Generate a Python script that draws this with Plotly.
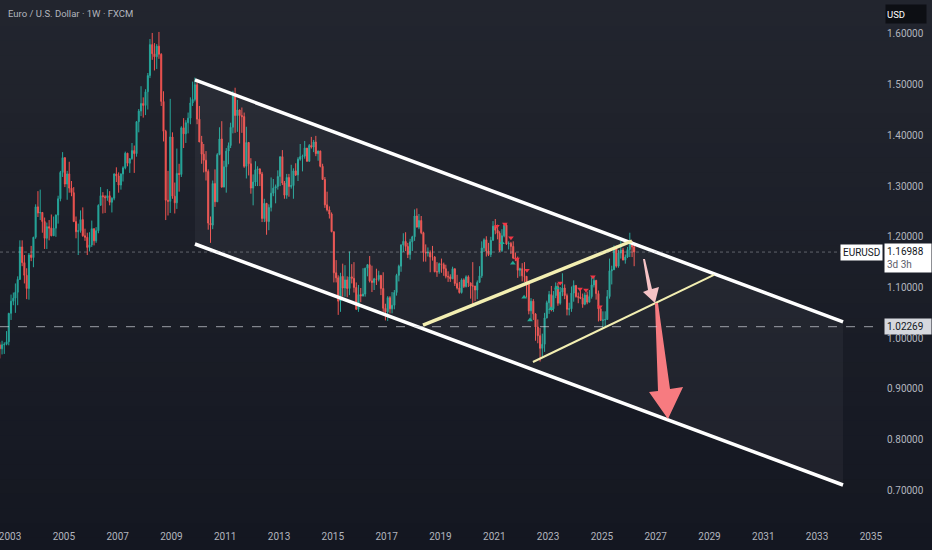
import pandas as pd
import plotly.graph_objects as go

# monthly EUR/USD candles, Aug 2002 .. Mar 2026 (high, low, close)
first_open = 0.9870
highs = [
    0.9920, 0.9950, 0.9920, 1.0140, 1.0500,  # 2002 Aug-Dec
    1.0860, 1.0900, 1.1080, 1.1220, 1.1930, 1.1930, 1.1640, 1.1380, 1.1680, 1.1820, 1.2000, 1.2640,  # 2003
    1.2900, 1.2930, 1.2470, 1.2380, 1.2280, 1.2330, 1.2440, 1.2400, 1.2440, 1.2810, 1.3300, 1.3670,  # 2004
    1.3570, 1.3300, 1.3480, 1.3100, 1.2980, 1.2400, 1.2260, 1.2520, 1.2580, 1.2160, 1.2080, 1.2090,  # 2005
    1.2320, 1.2150, 1.2190, 1.2640, 1.2980, 1.2880, 1.2820, 1.2940, 1.2900, 1.2780, 1.3250, 1.3370,  # 2006
    1.3270, 1.3250, 1.3390, 1.3680, 1.3650, 1.3550, 1.3850, 1.3800, 1.4280, 1.4520, 1.4970, 1.4750,  # 2007
    1.4910, 1.5230, 1.5900, 1.6020, 1.5820, 1.5800, 1.6040, 1.5620, 1.4870, 1.4110, 1.3300, 1.4720,  # 2008
    1.4060, 1.3070, 1.3740, 1.3440, 1.4180, 1.4340, 1.4300, 1.4450, 1.4750, 1.5060, 1.5140, 1.5100,  # 2009
    1.4580, 1.3990, 1.3830, 1.3690, 1.3330, 1.2400, 1.3110, 1.3330, 1.3650, 1.4160, 1.4280, 1.3500,  # 2010
    1.3750, 1.3860, 1.4250, 1.4880, 1.4940, 1.4700, 1.4510, 1.4550, 1.4450, 1.4170, 1.3870, 1.3550,  # 2011
    1.3230, 1.3490, 1.3390, 1.3280, 1.3280, 1.2750, 1.2650, 1.2640, 1.3170, 1.3140, 1.3030, 1.3310,  # 2012
    1.3580, 1.3710, 1.3100, 1.3240, 1.3240, 1.3420, 1.3350, 1.3450, 1.3570, 1.3830, 1.3620, 1.3890,  # 2013
    1.3740, 1.3830, 1.3970, 1.3910, 1.3990, 1.3700, 1.3700, 1.3440, 1.3180, 1.2890, 1.2600, 1.2480,  # 2014
    1.2100, 1.1540, 1.1240, 1.1290, 1.1470, 1.1440, 1.1220, 1.1710, 1.1460, 1.1500, 1.1100, 1.1050,  # 2015
    1.0990, 1.1380, 1.1390, 1.1460, 1.1620, 1.1430, 1.1190, 1.1370, 1.1330, 1.1240, 1.1300, 1.0680,  # 2016
    1.0830, 1.0830, 1.0910, 1.0950, 1.1270, 1.1450, 1.1850, 1.2070, 1.2090, 1.1880, 1.1960, 1.2020,  # 2017
    1.2540, 1.2560, 1.2450, 1.2410, 1.2100, 1.1850, 1.1790, 1.1730, 1.1820, 1.1620, 1.1500, 1.1490,  # 2018
    1.1570, 1.1490, 1.1450, 1.1320, 1.1260, 1.1410, 1.1290, 1.1250, 1.1110, 1.1180, 1.1180, 1.1240,  # 2019
    1.1240, 1.1100, 1.1500, 1.1020, 1.1140, 1.1420, 1.1910, 1.1970, 1.2010, 1.1880, 1.2000, 1.2310,  # 2020
    1.2350, 1.2240, 1.2110, 1.2150, 1.2270, 1.2250, 1.1910, 1.1900, 1.1910, 1.1690, 1.1610, 1.1390,  # 2021
    1.1480, 1.1500, 1.1180, 1.1080, 1.0790, 1.0770, 1.0490, 1.0370, 1.0200, 1.0090, 1.0500, 1.0740,  # 2022
    1.0930, 1.1030, 1.0930, 1.1100, 1.1090, 1.1010, 1.1280, 1.1060, 1.0880, 1.0700, 1.1020, 1.1140,  # 2023
    1.1050, 1.0900, 1.0980, 1.0880, 1.0900, 1.0920, 1.0950, 1.1200, 1.1210, 1.1150, 1.0940, 1.0630,  # 2024
    1.0530, 1.0530, 1.0950, 1.1570, 1.1430, 1.1830, 1.1830, 1.1740, 1.1920, 1.1780, 1.1650, 1.1800,  # 2025
    1.2080, 1.1920, 1.1850,  # 2026
]
lows = [
    0.9600, 0.9680, 0.9690, 0.9860, 0.9860,
    1.0360, 1.0650, 1.0500, 1.0650, 1.1170, 1.1420, 1.1080, 1.0770, 1.0760, 1.1520, 1.1400, 1.1960,
    1.2390, 1.2330, 1.2080, 1.1760, 1.1760, 1.1930, 1.2010, 1.2040, 1.2000, 1.2260, 1.2700, 1.3180,
    1.2980, 1.2730, 1.2870, 1.2800, 1.2290, 1.1970, 1.1640, 1.2080, 1.2000, 1.1920, 1.1640, 1.1710,
    1.1800, 1.1830, 1.1880, 1.2070, 1.2640, 1.2460, 1.2470, 1.2710, 1.2620, 1.2480, 1.2720, 1.3080,
    1.2870, 1.2930, 1.3090, 1.3330, 1.3390, 1.3260, 1.3520, 1.3260, 1.3580, 1.4060, 1.4380, 1.4350,
    1.4400, 1.4510, 1.5130, 1.5490, 1.5280, 1.5310, 1.5510, 1.4580, 1.3880, 1.2330, 1.2420, 1.2470,
    1.2750, 1.2460, 1.2550, 1.2890, 1.3180, 1.3750, 1.3850, 1.4040, 1.4220, 1.4580, 1.4670, 1.4220,
    1.3870, 1.3440, 1.3270, 1.3110, 1.2140, 1.1880, 1.2150, 1.2590, 1.2690, 1.3610, 1.2970, 1.3070,
    1.2870, 1.3430, 1.3750, 1.4040, 1.4050, 1.4070, 1.3840, 1.4050, 1.3360, 1.3150, 1.3210, 1.2850,
    1.2620, 1.3000, 1.3000, 1.3000, 1.2290, 1.2290, 1.2040, 1.2130, 1.2500, 1.2800, 1.2660, 1.2930,
    1.3000, 1.3020, 1.2750, 1.2750, 1.2790, 1.2950, 1.2750, 1.3200, 1.3100, 1.3500, 1.3290, 1.3540,
    1.3480, 1.3480, 1.3740, 1.3670, 1.3590, 1.3500, 1.3370, 1.3130, 1.2570, 1.2500, 1.2360, 1.2090,
    1.1100, 1.1100, 1.0460, 1.0520, 1.0820, 1.0820, 1.0810, 1.0850, 1.1080, 1.0900, 1.0560, 1.0520,
    1.0710, 1.0860, 1.0820, 1.1220, 1.1100, 1.0910, 1.0950, 1.1050, 1.1120, 1.0850, 1.0520, 1.0350,
    1.0340, 1.0490, 1.0490, 1.0570, 1.0840, 1.1120, 1.1310, 1.1700, 1.1720, 1.1580, 1.1550, 1.1720,
    1.1920, 1.2190, 1.2150, 1.2050, 1.1510, 1.1510, 1.1610, 1.1300, 1.1530, 1.1300, 1.1210, 1.1270,
    1.1290, 1.1230, 1.1180, 1.1110, 1.1110, 1.1180, 1.1030, 1.0960, 1.0880, 1.0880, 1.0990, 1.1000,
    1.1010, 1.0780, 1.0640, 1.0730, 1.0770, 1.1100, 1.1190, 1.1700, 1.1610, 1.1620, 1.1600, 1.1920,
    1.2050, 1.1950, 1.1700, 1.1700, 1.1990, 1.1840, 1.1750, 1.1660, 1.1560, 1.1520, 1.1190, 1.1220,
    1.1120, 1.1110, 1.0800, 1.0470, 1.0350, 1.0360, 0.9950, 0.9900, 0.9540, 0.9630, 0.9730, 1.0390,
    1.0480, 1.0530, 1.0520, 1.0790, 1.0640, 1.0660, 1.0830, 1.0770, 1.0450, 1.0450, 1.0520, 1.0720,
    1.0800, 1.0690, 1.0770, 1.0600, 1.0650, 1.0670, 1.0710, 1.0780, 1.1000, 1.0760, 1.0330, 1.0340,
    1.0180, 1.0210, 1.0360, 1.0780, 1.1060, 1.1350, 1.1390, 1.1390, 1.1570, 1.1540, 1.1470, 1.1580,
    1.1600, 1.1600, 1.1420,
]
closes = [
    0.9790, 0.9870, 0.9880, 0.9930, 1.0490,
    1.0730, 1.0790, 1.0905, 1.1160, 1.1800, 1.1490, 1.1240, 1.0980, 1.1640, 1.1590, 1.1990, 1.2590,
    1.2470, 1.2480, 1.2300, 1.1970, 1.2200, 1.2170, 1.2020, 1.2170, 1.2430, 1.2750, 1.3270, 1.3560,
    1.3040, 1.3240, 1.2960, 1.2870, 1.2300, 1.2100, 1.2120, 1.2340, 1.2020, 1.1990, 1.1790, 1.1840,
    1.2160, 1.1920, 1.2120, 1.2620, 1.2810, 1.2790, 1.2770, 1.2810, 1.2680, 1.2760, 1.3240, 1.3200,
    1.3020, 1.3240, 1.3360, 1.3650, 1.3450, 1.3540, 1.3700, 1.3640, 1.4270, 1.4480, 1.4630, 1.4590,
    1.4860, 1.5180, 1.5790, 1.5610, 1.5550, 1.5760, 1.5600, 1.4670, 1.4080, 1.2720, 1.2700, 1.3970,
    1.2800, 1.2670, 1.3250, 1.3230, 1.4150, 1.4030, 1.4250, 1.4340, 1.4640, 1.4710, 1.5000, 1.4320,
    1.3870, 1.3630, 1.3510, 1.3290, 1.2270, 1.2230, 1.3050, 1.2690, 1.3620, 1.3930, 1.2980, 1.3380,
    1.3690, 1.3800, 1.4160, 1.4810, 1.4390, 1.4500, 1.4390, 1.4370, 1.3390, 1.3860, 1.3440, 1.2960,
    1.3080, 1.3320, 1.3340, 1.3240, 1.2360, 1.2660, 1.2300, 1.2580, 1.2860, 1.2960, 1.2990, 1.3190,
    1.3580, 1.3060, 1.2820, 1.3170, 1.2990, 1.3010, 1.3300, 1.3220, 1.3530, 1.3580, 1.3590, 1.3750,
    1.3490, 1.3800, 1.3770, 1.3870, 1.3640, 1.3690, 1.3390, 1.3130, 1.2630, 1.2530, 1.2450, 1.2100,
    1.1290, 1.1190, 1.0730, 1.1220, 1.0990, 1.1150, 1.0980, 1.1210, 1.1180, 1.1000, 1.0570, 1.0860,
    1.0830, 1.0870, 1.1380, 1.1450, 1.1130, 1.1100, 1.1170, 1.1160, 1.1240, 1.0980, 1.0590, 1.0520,
    1.0800, 1.0580, 1.0650, 1.0900, 1.1240, 1.1420, 1.1840, 1.1910, 1.1810, 1.1650, 1.1900, 1.2000,
    1.2410, 1.2190, 1.2320, 1.2080, 1.1690, 1.1680, 1.1690, 1.1600, 1.1600, 1.1310, 1.1310, 1.1470,
    1.1450, 1.1370, 1.1220, 1.1210, 1.1170, 1.1370, 1.1080, 1.0990, 1.0900, 1.1150, 1.1020, 1.1210,
    1.1090, 1.1030, 1.1030, 1.0950, 1.1100, 1.1230, 1.1780, 1.1940, 1.1720, 1.1650, 1.1930, 1.2210,
    1.2130, 1.2070, 1.1730, 1.2020, 1.2230, 1.1860, 1.1870, 1.1810, 1.1580, 1.1560, 1.1340, 1.1370,
    1.1230, 1.1220, 1.1070, 1.0540, 1.0730, 1.0480, 1.0220, 1.0050, 0.9800, 0.9880, 1.0400, 1.0700,
    1.0860, 1.0580, 1.0840, 1.1020, 1.0690, 1.0910, 1.0990, 1.0840, 1.0570, 1.0580, 1.0890, 1.1040,
    1.0820, 1.0810, 1.0790, 1.0670, 1.0850, 1.0710, 1.0820, 1.1050, 1.1140, 1.0880, 1.0580, 1.0350,
    1.0360, 1.0370, 1.0820, 1.1330, 1.1350, 1.1790, 1.1420, 1.1680, 1.1740, 1.1540, 1.1600, 1.1750,
    1.1850, 1.1800, 1.1699,
]
opens = [first_open] + closes[:-1]
months = pd.date_range("2002-08-01", periods=len(closes), freq="MS") + pd.Timedelta(days=14)

last_price = 1.16988
level_price = 1.02269

# drawings (time / price anchors)
chan_dates = ["2009-11-16", "2033-12-19"]
chan_upper = [1.5093, 1.0320]
chan_lower = [1.1858, 0.7105]

ylw_top_dates = ["2018-05-09", "2026-02-14"]
ylw_top_prices = [1.0260, 1.1917]
ylw_bot_dates = ["2022-06-10", "2029-03-03"]
ylw_bot_prices = [0.9531, 1.1247]

small_arrow_dates = ["2026-07-13", "2026-08-09", "2026-11-12", "2027-02-15",
                     "2026-12-23", "2026-07-13", "2026-09-19", "2026-07-13"]
small_arrow_prices = [1.1562, 1.1562, 1.0970, 1.1010, 1.0694, 1.0911, 1.0951, 1.1562]
big_arrow_dates = ["2026-12-23", "2027-02-02", "2027-07-15", "2028-01-08",
                   "2027-06-17", "2026-10-03", "2027-02-02", "2026-12-23"]
big_arrow_prices = [1.0694, 1.0694, 0.8998, 0.9037, 0.8406, 0.8939, 0.8959, 1.0694]

sell_dates = ["2021-02-05", "2021-05-25", "2021-08-15", "2021-11-05", "2022-03-20",
              "2023-06-15", "2024-03-10", "2024-05-30", "2024-09-01", "2024-12-05"]
sell_prices = [1.221, 1.225, 1.198, 1.156, 1.134, 1.109, 1.097, 1.095, 1.121, 1.062]
buy_dates = ["2021-04-15", "2021-09-10", "2022-02-10", "2022-05-01", "2023-02-10", "2023-05-01"]
buy_prices = [1.188, 1.148, 1.081, 1.036, 1.058, 1.099]

fig = go.Figure()

# channel fill
fig.add_trace(go.Scatter(
    x=chan_dates + chan_dates[::-1] + chan_dates[:1],
    y=chan_upper + chan_lower[::-1] + chan_upper[:1],
    fill="toself", fillcolor="rgba(255,255,255,0.045)",
    mode="lines", line=dict(width=0), hoverinfo="skip"))

fig.add_trace(go.Candlestick(
    x=months, open=opens, high=highs, low=lows, close=closes,
    increasing=dict(line=dict(color="#26a69a", width=1), fillcolor="#26a69a"),
    decreasing=dict(line=dict(color="#ef5350", width=1), fillcolor="#ef5350"),
    whiskerwidth=0))

fig.add_trace(go.Scatter(x=sell_dates, y=sell_prices, mode="markers",
                         marker=dict(symbol="triangle-down", size=5, color="#f23645")))
fig.add_trace(go.Scatter(x=buy_dates, y=buy_prices, mode="markers",
                         marker=dict(symbol="triangle-up", size=5, color="#22ab94")))

for yy in (chan_upper, chan_lower):
    fig.add_trace(go.Scatter(x=chan_dates, y=yy, mode="lines",
                             line=dict(color="#ffffff", width=3.5)))
fig.add_trace(go.Scatter(x=ylw_top_dates, y=ylw_top_prices, mode="lines",
                         line=dict(color="#f3efb2", width=3.5)))
fig.add_trace(go.Scatter(x=ylw_bot_dates, y=ylw_bot_prices, mode="lines",
                         line=dict(color="#f3efb2", width=2)))

fig.add_trace(go.Scatter(x=small_arrow_dates, y=small_arrow_prices, fill="toself",
                         fillcolor="#f6c3c6", mode="lines", line=dict(width=0)))
fig.add_trace(go.Scatter(x=big_arrow_dates, y=big_arrow_prices, fill="toself",
                         fillcolor="#f77b80", mode="lines", line=dict(width=0)))

# background gradient strips
shapes = []
n_strips = 40
for i in range(n_strips):
    f = i / (n_strips - 1)
    r = round(35 - 15 * f)
    g = round(38 - 15 * f)
    b = round(47 - 14 * f)
    shapes.append(dict(type="rect", xref="paper", yref="paper", layer="below",
                       x0=-0.01, x1=1.1, y0=1.06 - (i + 1) * 1.12 / n_strips,
                       y1=1.06 - i * 1.12 / n_strips + 0.002,
                       fillcolor=f"rgb({r},{g},{b})", line=dict(width=0)))
shapes.append(dict(type="line", xref="paper", yref="y", x0=0, x1=1,
                   y0=last_price, y1=last_price,
                   line=dict(color="rgba(178,181,190,0.45)", width=1, dash="dot")))
shapes.append(dict(type="line", xref="paper", yref="y", x0=0, x1=1,
                   y0=level_price, y1=level_price,
                   line=dict(color="rgba(209,212,220,0.7)", width=1, dash="dash")))

font = "Roboto, Noto Sans, sans-serif"
annotations = [
    dict(text="Euro / U.S. Dollar · 1W · FXCM", xref="paper", yref="paper", x=0, y=1,
         xanchor="left", yanchor="top", xshift=6, yshift=-6, showarrow=False,
         font=dict(family=font, size=9.5, color="#b2b5be")),
    dict(text="USD", xref="paper", yref="paper", x=1, y=1, xanchor="left", yanchor="top",
         xshift=5, yshift=-4, showarrow=False, bgcolor="#0d0f14", width=38, height=16,
         align="left", font=dict(family=font, size=9.5, color="#ffffff")),
    dict(text="EURUSD", xref="paper", yref="y", x=1, y=last_price, xanchor="right",
         xshift=3, showarrow=False, bgcolor="#ffffff", borderpad=2,
         font=dict(family=font, size=10, color="#131722")),
    dict(text="1.16988<br><span style='color:#5d606b'>3d 3h</span>", xref="paper", yref="y",
         x=1, y=last_price, xanchor="left", yanchor="top", xshift=4, yshift=9,
         showarrow=False, bgcolor="#ffffff", borderpad=2, align="left", width=42,
         font=dict(family=font, size=10, color="#131722")),
    dict(text=f"{level_price:.5f}", xref="paper", yref="y", x=1, y=level_price,
         xanchor="left", xshift=4, showarrow=False, bgcolor="#d6d8de", borderpad=2,
         width=42, align="left", font=dict(family=font, size=10, color="#131722")),
]

fig.update_layout(
    width=932, height=550, margin=dict(l=0, r=52, t=0, b=28),
    paper_bgcolor="#181b25", plot_bgcolor="rgba(0,0,0,0)",
    showlegend=False, shapes=shapes, annotations=annotations,
    font=dict(family=font, size=10, color="#b2b5be"),
    xaxis=dict(type="date", range=["2002-08-18", "2035-05-05"], rangeslider=dict(visible=False),
               dtick="M24", tick0="2003-01-01", tickformat="%Y", showgrid=False,
               zeroline=False, showline=False, ticks="", ticklabeloverflow="allow",
               ticklabelstandoff=7,
               tickfont=dict(family=font, size=10, color="#b2b5be")),
    yaxis=dict(side="right", range=[0.6375, 1.667], tickvals=[0.7, 0.8, 0.9, 1.0, 1.1, 1.2, 1.3, 1.4, 1.5, 1.6],
               tickformat=".5f", showgrid=False, zeroline=False, showline=False, ticks="",
               ticklabelstandoff=6, tickfont=dict(family=font, size=10, color="#b2b5be")),
)

fig.write_html("out.html", config={"displayModeBar": False},
               post_script="document.body.style.margin='0';")
